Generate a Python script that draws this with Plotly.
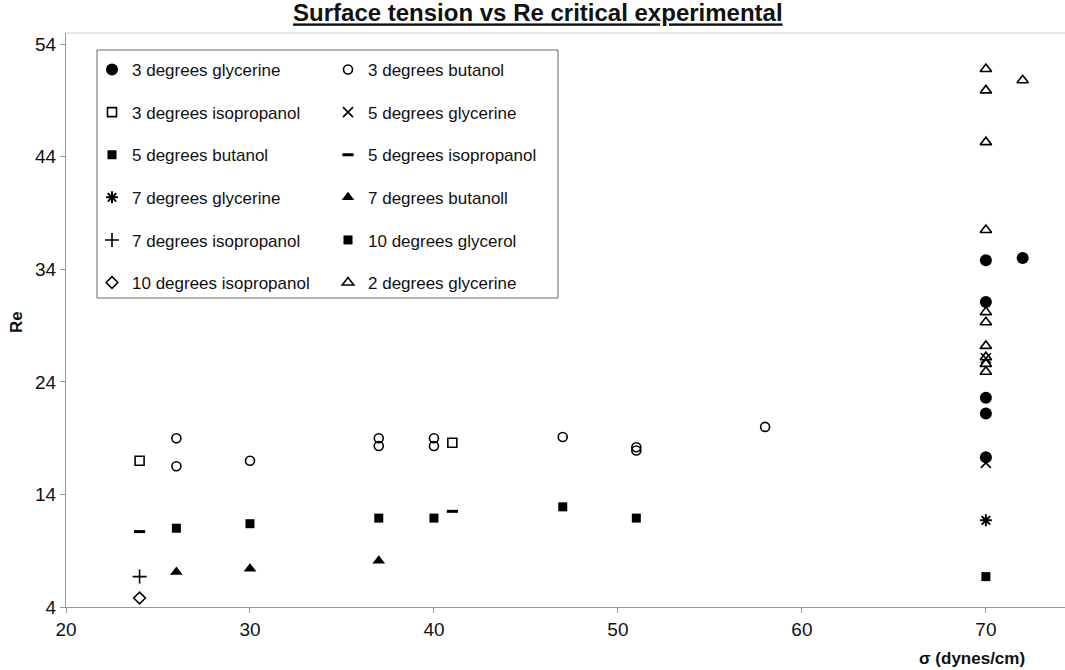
import plotly.graph_objects as go

# Surface tension (dynes/cm) and critical Reynolds number per series
gly3_x = [70, 70, 70, 70, 70, 72]
gly3_y = [34.8, 31.1, 22.6, 21.2, 17.3, 35.0]

but3_x = [26, 26, 30, 37, 37, 40, 40, 47, 51, 51, 58]
but3_y = [19.0, 16.5, 17.0, 19.0, 18.3, 19.0, 18.3, 19.1, 18.2, 17.9, 20.0]

iso3_x = [24, 41]
iso3_y = [17.0, 18.6]

gly5_x = [70, 70]
gly5_y = [16.8, 26.1]

but5_x = [26, 30, 37, 40, 47, 51]
but5_y = [11.0, 11.4, 11.9, 11.9, 12.9, 11.9]

iso5_x = [24, 41]
iso5_y = [10.7, 12.5]

gly7_x = [70]
gly7_y = [11.7]

but7_x = [26, 30, 37]
but7_y = [7.1, 7.4, 8.1]

iso7_x = [24]
iso7_y = [6.7]

glyc10_x = [70]
glyc10_y = [6.7]

iso10_x = [24]
iso10_y = [4.8]

gly2_x = [70, 70, 70, 70, 70, 70, 70, 70, 70, 70, 72]
gly2_y = [51.8, 49.9, 45.3, 37.5, 30.2, 29.3, 27.2, 26.2, 25.6, 24.9, 50.8]

x_ticks = [20, 30, 40, 50, 60, 70]
y_ticks = [4, 14, 24, 34, 44, 54]

# (name, x, y, symbol, size, line width, legend)
series = [
    ("3 degrees glycerine", gly3_x, gly3_y, "circle", 12, 0, "legend"),
    ("3 degrees isopropanol", iso3_x, iso3_y, "square-open", 9, 1.6, "legend"),
    ("5 degrees butanol", but5_x, but5_y, "square", 9, 0, "legend"),
    ("7 degrees glycerine", gly7_x, gly7_y, "asterisk-open", 10, 2, "legend"),
    ("7 degrees isopropanol", iso7_x, iso7_y, "cross-thin-open", 10, 1.6, "legend"),
    ("10 degrees isopropanol", iso10_x, iso10_y, "diamond-open", 9, 1.6, "legend"),
    ("3 degrees butanol", but3_x, but3_y, "circle-open", 9, 1.6, "legend2"),
    ("5 degrees glycerine", gly5_x, gly5_y, "x-thin-open", 10, 1.6, "legend2"),
    ("5 degrees isopropanol", iso5_x, iso5_y, "line-ew-open", 8, 3, "legend2"),
    ("7 degrees butanoll", but7_x, but7_y, "triangle-up", 11, 0, "legend2"),
    ("10 degrees glycerol", glyc10_x, glyc10_y, "square", 9, 0, "legend2"),
    ("2 degrees glycerine", gly2_x, gly2_y, "triangle-up-open", 10, 1.6, "legend2"),
]

fig = go.Figure()
for i, (name, xs, ys, sym, size, lw, leg) in enumerate(series):
    fig.add_trace(go.Scatter(
        x=xs, y=ys, mode="markers", name=name,
        legend=leg, legendgroup=f"g{i}",
        marker=dict(symbol=sym, size=size, color="black",
                    line=dict(color="black", width=lw)),
    ))

font_family = "Liberation Sans, Arial, sans-serif"
L, T, B = 66, 33, 63
W, H = 1065, 670
pw, ph = W - L, H - T - B


def px(x):
    return (x - L) / pw


def py(y):
    return (H - B - y) / ph


legend_common = dict(
    yanchor="top", xanchor="left",
    bgcolor="rgba(0,0,0,0)", borderwidth=0,
    font=dict(family=font_family, size=17, color="#111"),
    tracegroupgap=17.5, itemwidth=30,
)

fig.update_layout(
    width=W, height=H,
    margin=dict(l=L, r=0, t=T, b=B),
    paper_bgcolor="white", plot_bgcolor="white",
    showlegend=True,
    title=dict(
        text="<b>Surface tension vs Re critical experimental</b>",
        x=0.505, xanchor="center", y=1 - 13 / H, yanchor="middle",
        font=dict(family=font_family, size=24, color="#111", lineposition="under"),
    ),
    legend=dict(x=px(92), y=py(52), **legend_common),
    legend2=dict(x=px(328), y=py(52), **legend_common),
    xaxis=dict(
        range=[20, 74.3], tickvals=x_ticks, showgrid=False, zeroline=False,
        showline=True, linecolor="#999", linewidth=1,
        ticks="outside", ticklen=5, tickcolor="#999",
        tickfont=dict(family=font_family, size=19, color="#111"),
    ),
    yaxis=dict(
        range=[4, 55], tickvals=y_ticks, showgrid=False, zeroline=False,
        showline=True, linecolor="#999", linewidth=1,
        ticks="outside", ticklen=5, tickcolor="#999",
        tickfont=dict(family=font_family, size=19, color="#111"),
    ),
    shapes=[
        dict(type="rect", xref="paper", yref="paper",
             x0=px(97), x1=px(558), y0=py(298), y1=py(50),
             line=dict(color="#666", width=1), fillcolor="rgba(0,0,0,0)"),
        dict(type="line", xref="paper", yref="paper",
             x0=0, x1=1, y0=1, y1=1, line=dict(color="#ccc", width=1)),
    ],
    annotations=[
        dict(text="<b>σ (dynes/cm)</b>", xref="paper", yref="paper",
             x=px(972), y=py(658), xanchor="center", yanchor="middle",
             showarrow=False, font=dict(family=font_family, size=17, color="#111")),
        dict(text="<b>Re</b>", xref="paper", yref="paper",
             x=px(16), y=py(322), xanchor="center", yanchor="middle",
             textangle=-90, showarrow=False,
             font=dict(family=font_family, size=17, color="#111")),
    ],
)

fig.write_html("out.html")
